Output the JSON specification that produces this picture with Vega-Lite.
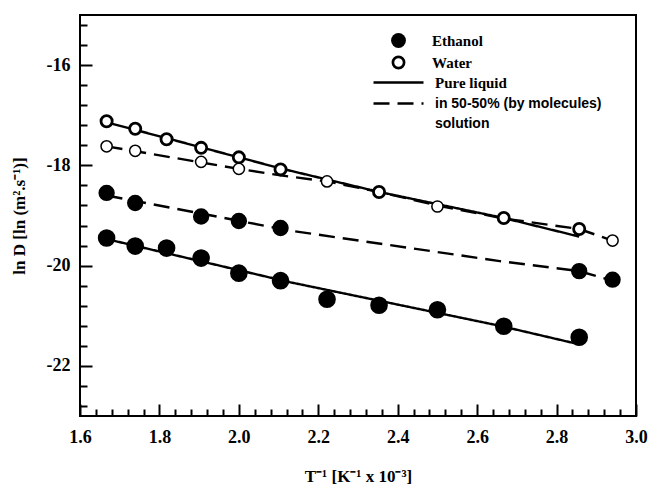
{
  "$schema": "https://vega.github.io/schema/vega-lite/v6.json",
  "width": 556,
  "height": 401,
  "autosize": {"type": "none"},
  "padding": {"left": 80, "top": 15, "right": 13, "bottom": 74},
  "background": "white",
  "config": {
    "view": {"stroke": "black", "strokeWidth": 2},
    "axis": {
      "domain": false,
      "grid": false,
      "ticks": true,
      "zindex": 1,
      "labelFont": "Liberation Serif",
      "labelFontWeight": "bold",
      "labelFontSize": 18,
      "labelColor": "black",
      "titleFont": "Liberation Serif",
      "titleFontWeight": "bold",
      "titleFontSize": 17,
      "titleColor": "black",
      "tickColor": "black",
      "tickWidth": 2
    }
  },
  "datasets": {
    "points": [
      {"x": 1.667, "lnD": -19.45, "species": "Ethanol", "medium": "Pure liquid"},
      {"x": 1.739, "lnD": -19.61, "species": "Ethanol", "medium": "Pure liquid"},
      {"x": 1.818, "lnD": -19.65, "species": "Ethanol", "medium": "Pure liquid"},
      {"x": 1.905, "lnD": -19.85, "species": "Ethanol", "medium": "Pure liquid"},
      {"x": 2.0, "lnD": -20.15, "species": "Ethanol", "medium": "Pure liquid"},
      {"x": 2.105, "lnD": -20.3, "species": "Ethanol", "medium": "Pure liquid"},
      {"x": 2.222, "lnD": -20.67, "species": "Ethanol", "medium": "Pure liquid"},
      {"x": 2.353, "lnD": -20.79, "species": "Ethanol", "medium": "Pure liquid"},
      {"x": 2.5, "lnD": -20.88, "species": "Ethanol", "medium": "Pure liquid"},
      {"x": 2.667, "lnD": -21.21, "species": "Ethanol", "medium": "Pure liquid"},
      {"x": 2.857, "lnD": -21.43, "species": "Ethanol", "medium": "Pure liquid"},
      {"x": 1.667, "lnD": -18.55, "species": "Ethanol", "medium": "in 50-50% (by molecules)"},
      {"x": 1.739, "lnD": -18.75, "species": "Ethanol", "medium": "in 50-50% (by molecules)"},
      {"x": 1.905, "lnD": -19.02, "species": "Ethanol", "medium": "in 50-50% (by molecules)"},
      {"x": 2.0, "lnD": -19.11, "species": "Ethanol", "medium": "in 50-50% (by molecules)"},
      {"x": 2.105, "lnD": -19.25, "species": "Ethanol", "medium": "in 50-50% (by molecules)"},
      {"x": 2.857, "lnD": -20.11, "species": "Ethanol", "medium": "in 50-50% (by molecules)"},
      {"x": 2.941, "lnD": -20.28, "species": "Ethanol", "medium": "in 50-50% (by molecules)"},
      {"x": 1.667, "lnD": -17.12, "species": "Water", "medium": "Pure liquid"},
      {"x": 1.739, "lnD": -17.27, "species": "Water", "medium": "Pure liquid"},
      {"x": 1.818, "lnD": -17.48, "species": "Water", "medium": "Pure liquid"},
      {"x": 1.905, "lnD": -17.65, "species": "Water", "medium": "Pure liquid"},
      {"x": 2.0, "lnD": -17.84, "species": "Water", "medium": "Pure liquid"},
      {"x": 2.105, "lnD": -18.08, "species": "Water", "medium": "Pure liquid"},
      {"x": 2.353, "lnD": -18.53, "species": "Water", "medium": "Pure liquid"},
      {"x": 2.667, "lnD": -19.05, "species": "Water", "medium": "Pure liquid"},
      {"x": 2.857, "lnD": -19.27, "species": "Water", "medium": "Pure liquid"},
      {"x": 1.667, "lnD": -17.62, "species": "Water", "medium": "in 50-50% (by molecules)"},
      {"x": 1.739, "lnD": -17.71, "species": "Water", "medium": "in 50-50% (by molecules)"},
      {"x": 1.905, "lnD": -17.93, "species": "Water", "medium": "in 50-50% (by molecules)"},
      {"x": 2.0, "lnD": -18.07, "species": "Water", "medium": "in 50-50% (by molecules)"},
      {"x": 2.222, "lnD": -18.32, "species": "Water", "medium": "in 50-50% (by molecules)"},
      {"x": 2.5, "lnD": -18.82, "species": "Water", "medium": "in 50-50% (by molecules)"},
      {"x": 2.941, "lnD": -19.5, "species": "Water", "medium": "in 50-50% (by molecules)"}
    ],
    "lines": [
      {"x": 1.667, "lnD": -17.14, "species": "Water", "medium": "Pure liquid"},
      {"x": 2.105, "lnD": -18.06, "species": "Water", "medium": "Pure liquid"},
      {"x": 2.353, "lnD": -18.53, "species": "Water", "medium": "Pure liquid"},
      {"x": 2.667, "lnD": -19.05, "species": "Water", "medium": "Pure liquid"},
      {"x": 2.857, "lnD": -19.42, "species": "Water", "medium": "Pure liquid"},
      {"x": 1.667, "lnD": -17.62, "species": "Water", "medium": "in 50-50% (by molecules)"},
      {"x": 2.0, "lnD": -18.07, "species": "Water", "medium": "in 50-50% (by molecules)"},
      {"x": 2.105, "lnD": -18.2, "species": "Water", "medium": "in 50-50% (by molecules)"},
      {"x": 2.222, "lnD": -18.32, "species": "Water", "medium": "in 50-50% (by molecules)"},
      {"x": 2.353, "lnD": -18.53, "species": "Water", "medium": "in 50-50% (by molecules)"},
      {"x": 2.5, "lnD": -18.8, "species": "Water", "medium": "in 50-50% (by molecules)"},
      {"x": 2.667, "lnD": -19.06, "species": "Water", "medium": "in 50-50% (by molecules)"},
      {"x": 2.857, "lnD": -19.27, "species": "Water", "medium": "in 50-50% (by molecules)"},
      {"x": 2.941, "lnD": -19.5, "species": "Water", "medium": "in 50-50% (by molecules)"},
      {"x": 1.667, "lnD": -19.47, "species": "Ethanol", "medium": "Pure liquid"},
      {"x": 2.128, "lnD": -20.33, "species": "Ethanol", "medium": "Pure liquid"},
      {"x": 2.657, "lnD": -21.2, "species": "Ethanol", "medium": "Pure liquid"},
      {"x": 2.857, "lnD": -21.57, "species": "Ethanol", "medium": "Pure liquid"},
      {"x": 1.667, "lnD": -18.6, "species": "Ethanol", "medium": "in 50-50% (by molecules)"},
      {"x": 2.128, "lnD": -19.3, "species": "Ethanol", "medium": "in 50-50% (by molecules)"},
      {"x": 2.657, "lnD": -19.91, "species": "Ethanol", "medium": "in 50-50% (by molecules)"},
      {"x": 2.857, "lnD": -20.11, "species": "Ethanol", "medium": "in 50-50% (by molecules)"},
      {"x": 2.941, "lnD": -20.3, "species": "Ethanol", "medium": "in 50-50% (by molecules)"}
    ]
  },
  "resolve": {"axis": {"x": "independent", "y": "independent"}},
  "layer": [
    {
      "data": {"name": "lines"},
      "mark": {"type": "line", "color": "black", "strokeWidth": 2.4},
      "encoding": {
        "x": {
          "field": "x", "type": "quantitative",
          "scale": {"domain": [1.6, 3.0], "nice": false, "zero": false},
          "axis": {
            "orient": "bottom",
            "title": "T⁻¹ [K⁻¹ x 10⁻³]",
            "values": [1.6, 1.8, 2.0, 2.2, 2.4, 2.6, 2.8, 3.0],
            "format": ".1f",
            "tickSize": -12,
            "labelPadding": 24,
            "titlePadding": 22,
            "labelFlush": false
          }
        },
        "y": {
          "field": "lnD", "type": "quantitative",
          "scale": {"domain": [-23, -15], "nice": false, "zero": false},
          "axis": {
            "orient": "left",
            "title": "ln D [ln (m².s⁻¹)]",
            "values": [-16, -18, -20, -22],
            "labelExpr": "'' + datum.value",
            "tickSize": -12,
            "labelPadding": 22,
            "titlePadding": 18,
            "labelFlush": false
          }
        },
        "detail": {"field": "species"},
        "strokeDash": {
          "field": "medium", "type": "nominal",
          "scale": {
            "domain": ["Pure liquid", "in 50-50% (by molecules)", "solution"],
            "range": [[1, 0], [16, 8], [0, 100]]
          },
          "legend": {
            "orient": "none",
            "legendX": 307,
            "legendY": 56,
            "title": null,
            "padding": 0,
            "symbolType": "M-2.5,0H2.5",
            "symbolSize": 400,
            "symbolStrokeWidth": 2.4,
            "symbolStrokeColor": "black",
            "symbolFillColor": "transparent",
            "labelFont": "Liberation Sans",
            "labelFontWeight": "bold",
            "labelFontSize": 14,
            "labelColor": "black",
            "labelOffset": 25,
            "labelLimit": 400,
            "rowPadding": 1,
            "encode": {
              "labels": {
                "update": {
                  "font": {"signal": "datum.value == 'Pure liquid' ? 'Liberation Serif' : 'Liberation Sans'"},
                  "fontSize": {"signal": "datum.value == 'Pure liquid' ? 15 : 14"}
                }
              },
              "symbols": {
                "update": {
                  "strokeDash": {"signal": "datum.value == 'Pure liquid' ? [1, 0] : [18, 6, 18, 100]"},
                  "strokeOpacity": {"signal": "datum.value == 'solution' ? 0 : 1"}
                }
              }
            }
          }
        }
      }
    },
    {
      "data": {"name": "points"},
      "mark": {"type": "circle", "stroke": "black", "opacity": 1},
      "encoding": {
        "x": {
          "field": "x", "type": "quantitative",
          "axis": {
            "orient": "bottom",
            "title": null,
            "labels": false,
            "values": [1.64, 1.68, 1.72, 1.76, 1.84, 1.88, 1.92, 1.96, 2.04, 2.08, 2.12, 2.16, 2.24, 2.28, 2.32, 2.36, 2.44, 2.48, 2.52, 2.56, 2.64, 2.68, 2.72, 2.76, 2.84, 2.88, 2.92, 2.96],
            "tickSize": -7
          }
        },
        "y": {
          "field": "lnD", "type": "quantitative",
          "axis": {
            "orient": "left",
            "title": null,
            "labels": false,
            "values": [-15.2, -15.6, -16.4, -16.8, -17.2, -17.6, -18.4, -18.8, -19.2, -19.6, -20.4, -20.8, -21.2, -21.6, -22.4, -22.8],
            "tickSize": -7
          }
        },
        "fill": {
          "field": "species", "type": "nominal",
          "scale": {"domain": ["Ethanol", "Water"], "range": ["black", "white"]},
          "legend": {
            "orient": "none",
            "legendX": 311,
            "legendY": 18,
            "title": null,
            "padding": 0,
            "symbolType": "circle",
            "symbolStrokeColor": "black",
            "symbolOpacity": 1,
            "labelFont": "Liberation Serif",
            "labelFontWeight": "bold",
            "labelFontSize": 15,
            "labelColor": "black",
            "labelOffset": 26,
            "rowPadding": 2,
            "encode": {
              "symbols": {
                "update": {
                  "size": {"signal": "datum.value == 'Ethanol' ? 290 : 60"},
                  "strokeWidth": {"signal": "datum.value == 'Ethanol' ? 0 : 2.7"},
                  "stroke": {"value": "black"}
                }
              }
            }
          }
        },
        "size": {
          "field": "species", "type": "nominal",
          "scale": {"domain": ["Ethanol", "Water"], "range": [220, 125]}
        },
        "strokeWidth": {
          "field": "medium", "type": "nominal",
          "scale": {"domain": ["Pure liquid", "in 50-50% (by molecules)"], "range": [2.8, 1.5]},
          "legend": null
        }
      }
    }
  ]
}
